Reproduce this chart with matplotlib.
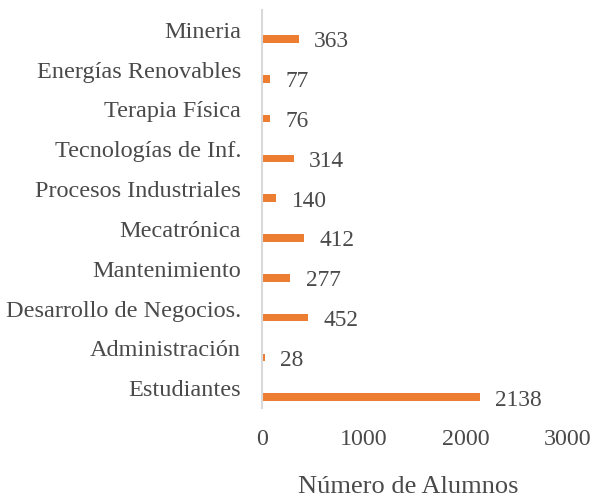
import matplotlib
matplotlib.use("Agg")
import matplotlib.pyplot as plt
import numpy as np

categories = ["Mineria", "Energías Renovables", "Terapia Física", "Tecnologías de Inf.",
              "Procesos Industriales", "Mecatrónica", "Mantenimiento",
              "Desarrollo de Negocios.", "Administración", "Estudiantes"]
values = [363, 77, 76, 314, 140, 412, 277, 452, 28, 2138]
xticks = [0, 1000, 2000, 3000]

plt.rcParams['font.family'] = ['Liberation Serif', 'DejaVu Serif']
txt = '#4a4a4a'

fig = plt.figure(figsize=(5.93, 5.0), dpi=100)
ax = fig.add_axes([262/593, 1-408/500, (568-262)/593, (408-10)/500])

pos = np.arange(len(categories))
ax.barh(pos + 0.23, values, height=0.19, color='#ED7D31')
for p, v in zip(pos, values):
    ax.annotate(str(v), (v, p + 0.30), xytext=(11, 0), textcoords='offset points',
                ha='left', va='center', fontsize=16.8, color=txt)

ax.set_ylim(len(categories) - 0.5, -0.5)
ax.set_xlim(0, 3000)
ax.set_yticks(pos)
ax.set_yticklabels(categories, fontsize=17.5, color=txt)
ax.set_xticks(xticks)
ax.set_xticklabels([str(t) for t in xticks], fontsize=17.3, color=txt)
ax.tick_params(axis='both', length=0)
ax.tick_params(axis='y', pad=15)
ax.tick_params(axis='x', pad=15)
for s in ['top', 'right', 'bottom']:
    ax.spines[s].set_visible(False)
ax.spines['left'].set_color('#D9D9D9')
ax.spines['left'].set_linewidth(1.5)
ax.set_xlabel('Número de Alumnos', fontsize=19, color=txt, va='center')
ax.xaxis.set_label_coords((408-262)/306, -(487-408)/398)

fig.savefig('out.png', dpi=100)
